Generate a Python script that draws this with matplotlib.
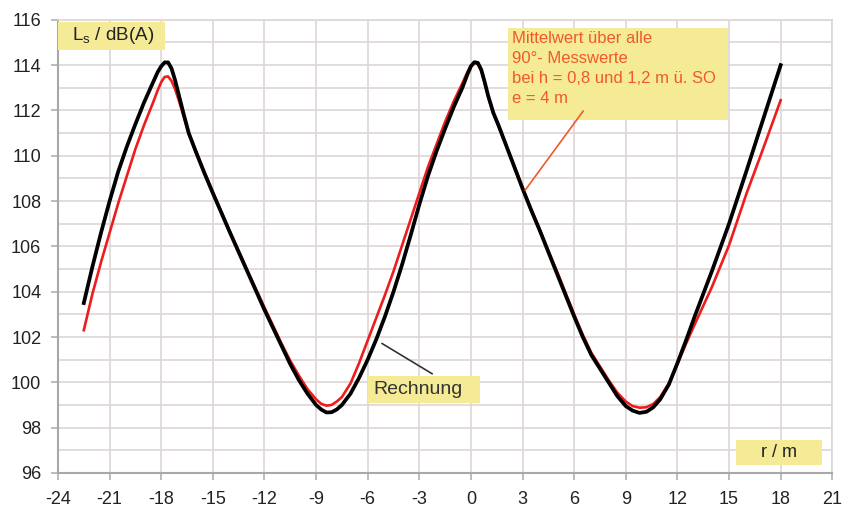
import matplotlib
matplotlib.use('Agg')
import matplotlib.pyplot as plt
from matplotlib.patches import Rectangle
from matplotlib.ticker import MultipleLocator

plt.rcParams['font.family'] = ['Liberation Sans', 'DejaVu Sans']
plt.rcParams['mathtext.fontset'] = 'custom'
plt.rcParams['mathtext.rm'] = 'Liberation Sans'
plt.rcParams['axes.unicode_minus'] = False

# Rechnung (black)
r_calc = [-22.5, -22, -21.5, -21, -20.5, -20, -19.5, -19, -18.5, -18.2, -18, -17.8, -17.6,
          -17.4, -17.2, -17, -16.7, -16.4, -16, -15.5, -15, -14, -13, -12, -11, -10.5, -10,
          -9.5, -9, -8.7, -8.4, -8.1, -7.8, -7.5, -7, -6.5, -6, -5.5, -5, -4.5, -4, -3.5,
          -3, -2.5, -2, -1.5, -1, -0.5, -0.2, 0, 0.2, 0.4, 0.6, 0.8, 1, 1.3, 1.6, 2, 2.5,
          3, 3.5, 4, 4.5, 5, 5.5, 6, 6.5, 7, 7.5, 8, 8.5, 9, 9.4, 9.8, 10.2, 10.6, 11,
          11.5, 12, 12.5, 13, 14, 15, 16, 17, 18]
L_calc = [103.5, 105.1, 106.6, 108.0, 109.3, 110.4, 111.4, 112.35, 113.2, 113.7, 113.95, 114.12, 114.12,
          113.85, 113.35, 112.75, 111.85, 111.0, 110.2, 109.25, 108.35, 106.6, 104.9, 103.2, 101.6, 100.8, 100.1,
          99.5, 99.0, 98.8, 98.67, 98.68, 98.8, 99.0, 99.5, 100.2, 101.0, 101.9, 102.9, 104.0, 105.2, 106.5,
          107.85, 109.1, 110.2, 111.2, 112.15, 113.0, 113.6, 113.95, 114.13, 114.1, 113.8, 113.25, 112.65, 111.9, 111.35, 110.55, 109.55,
          108.55, 107.6, 106.7, 105.75, 104.8, 103.85, 102.9, 102.0, 101.2, 100.6, 100.0, 99.4, 98.95, 98.75, 98.65, 98.7, 98.9, 99.25,
          99.9, 100.85, 101.85, 102.9, 104.9, 107.0, 109.3, 111.65, 114.0]

# Mittelwert der Messwerte (red)
r_meas = r_calc
L_meas = [102.3, 103.9, 105.3, 106.6, 107.9, 109.1, 110.3, 111.35, 112.3, 112.9, 113.25, 113.48, 113.5,
          113.3, 112.95, 112.5, 111.75, 110.95, 110.25, 109.3, 108.4, 106.65, 104.95, 103.3, 101.7, 100.95, 100.3,
          99.7, 99.25, 99.05, 98.97, 99.0, 99.15, 99.35, 99.95, 100.85, 101.85, 102.85, 103.85, 104.9, 106.05, 107.2,
          108.35, 109.5, 110.5, 111.5, 112.4, 113.2, 113.7, 113.98, 114.1, 114.05, 113.75, 113.2, 112.6, 111.85, 111.3, 110.55, 109.6,
          108.6, 107.65, 106.75, 105.8, 104.9, 103.95, 103.0, 102.1, 101.3, 100.7, 100.1, 99.55, 99.15, 98.95, 98.88, 98.9, 99.05, 99.35,
          99.95, 100.8, 101.7, 102.55, 104.2, 106.05, 108.3, 110.35, 112.45]

xticks = list(range(-24, 22, 3))
yticks = list(range(96, 117, 2))

box_yellow = '#f5eb96'
note_red = '#ee5a2a'

fig = plt.figure(figsize=(8.49, 5.08), dpi=100)
ax = fig.add_axes([0.0683, 0.069, 0.912, 0.892])

ax.plot(r_meas, L_meas, color='#ee1c1c', lw=1.9, zorder=3)
ax.plot(r_calc, L_calc, color='black', lw=2.7, zorder=4)

ax.set_xlim(-24, 21)
ax.set_ylim(96, 116)
ax.set_xticks(xticks)
ax.set_yticks(yticks)
ax.yaxis.set_minor_locator(MultipleLocator(1))
ax.grid(True, which='both', color='#ddd6d6', lw=1.2)
ax.set_axisbelow(True)
for side in ['top', 'right']:
    ax.spines[side].set_color('#ddd6d6')
    ax.spines[side].set_linewidth(1.2)
for side in ['left', 'bottom']:
    ax.spines[side].set_color('#a8a8a8')
    ax.spines[side].set_linewidth(1.5)
ax.tick_params(which='major', length=5, width=1.2, color='#b0b0b0',
               labelsize=13, labelcolor='#222222')
ax.tick_params(axis='y', pad=7)
ax.tick_params(axis='x', pad=8)
ax.tick_params(which='minor', length=0)


def label_box(x0, y0, x1, y1):
    ax.add_patch(Rectangle((x0, y0), x1 - x0, y1 - y0, fc=box_yellow, ec='none',
                           zorder=5, clip_on=False))


# axis captions
label_box(-24, 114.67, -17.78, 115.91)
ax.text(-23.19, 115.29, r'L$_{\mathrm{s}}$ / dB(A)', fontsize=13.5, color='#222222',
        va='center', ha='left', zorder=6)
label_box(15.42, 96.35, 20.42, 97.46)
ax.text(17.92, 96.9, 'r / m', fontsize=13, color='#222222', va='center', ha='center', zorder=6)

# note for the measured values
label_box(2.16, 111.58, 14.95, 115.65)
ax.plot([6.52, 3.15], [111.97, 108.48], color=note_red, lw=1.2, zorder=7)
ax.text(2.4, 115.52, 'Mittelwert über alle\n90°- Messwerte\nbei h = 0,8 und 1,2 m ü. SO\ne = 4 m',
        fontsize=12, color=note_red, va='top', ha='left', linespacing=1.42, zorder=6)

# note for the calculation
ax.plot([-5.16, -2.26], [101.71, 100.38], color='#333333', lw=1.2, zorder=5)
label_box(-5.98, 99.10, 0.53, 100.29)
ax.text(-5.69, 99.7, 'Rechnung', fontsize=14, color='#333333', va='center', ha='left', zorder=6)

fig.savefig('out.png', dpi=100)
